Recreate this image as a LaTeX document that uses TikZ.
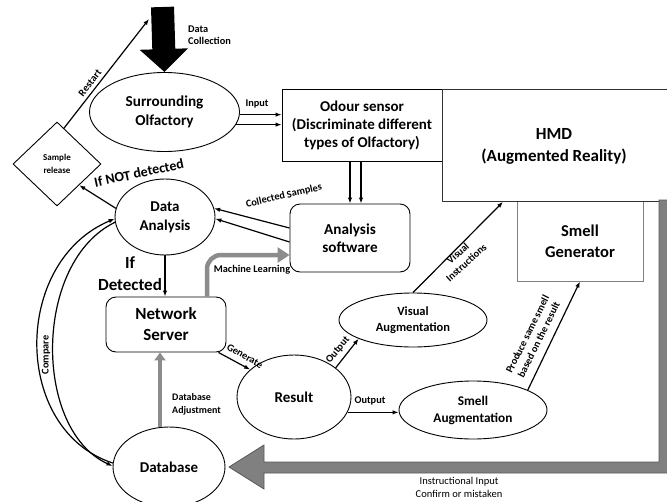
\documentclass[tikz,border=0pt]{standalone}
\usepackage{fontspec}
\setmainfont{Carlito}
\usetikzlibrary{shapes.geometric,arrows.meta,calc}
\begin{document}
\begin{tikzpicture}[x=1pt,y=-1pt,
  arr/.style={-{Latex[length=6pt,width=4.5pt]}, line width=1.2pt},
  ell/.style={ellipse, draw, line width=0.9pt, inner sep=0pt, align=center},
  sqbox/.style={rectangle, draw, line width=0.9pt, inner sep=0pt, align=center},
  rbox/.style={rectangle, rounded corners=10pt, draw, line width=0.9pt, inner sep=0pt, align=center},
  lab/.style={font=\bfseries\fontsize{10.3}{12.5}\selectfont, inner sep=0pt, align=center},
  garr/.style={line width=4.5pt, draw=black!45},
]
\useasboundingbox (0,0) rectangle (667,501);
\clip (0,0) rectangle (667,501);

% nodes
\node[ell, minimum width=150pt, minimum height=79pt, font=\bfseries\fontsize{15.2}{19}\selectfont] (so) at (164.5,112) {Surrounding\\Olfactory};
\node[sqbox, minimum width=160pt, minimum height=72pt, font=\bfseries\fontsize{15}{18}\selectfont] (odour) at (362,125) {Odour sensor\\(Discriminate different\\types of Olfactory)};
\node[sqbox, draw=black!50, minimum width=126pt, minimum height=80pt, font=\bfseries\fontsize{16.5}{21}\selectfont] (sg) at (580,241) {Smell\\Generator};
\node[sqbox, draw=black!80, anchor=north west, minimum width=240pt, minimum height=112pt] (hmd) at (442,89) {};
\node[inner sep=0pt, align=center, font=\bfseries\fontsize{17}{22}\selectfont] (hmdt) at (554,146) {HMD\\(Augmented Reality)};
\node[ell, minimum width=100pt, minimum height=76pt, font=\bfseries\fontsize{15}{19}\selectfont] (da) at (165,217) {Data\\Analysis};
\node[rbox, minimum width=120pt, minimum height=68pt, font=\bfseries\fontsize{15.2}{18}\selectfont] (asw) at (350,238) {Analysis\\software};
\node[rbox, minimum width=120pt, minimum height=55pt, font=\bfseries\fontsize{17}{21}\selectfont] (ns) at (166,324.5) {Network\\Server};
\node[ell, minimum width=114pt, minimum height=84pt, font=\bfseries\fontsize{15}{18}\selectfont] (res) at (294,397) {Result};
\node[ell, minimum width=148pt, minimum height=54pt, font=\bfseries\fontsize{12.5}{16}\selectfont] (va) at (413,320) {Visual\\Augmentation};
\node[ell, minimum width=148pt, minimum height=58pt, font=\bfseries\fontsize{13.3}{17}\selectfont] (sa) at (473,410) {Smell\\Augmentation};
\node[ell, minimum width=112pt, minimum height=80pt, font=\bfseries\fontsize{15}{18}\selectfont] (db) at (169,467) {Database};
\node[diamond, draw, line width=0.9pt, minimum width=88pt, minimum height=84pt, inner sep=0pt, align=center, font=\bfseries\fontsize{9}{13}\selectfont] (sr) at (57,164) {Sample\\release};

% big black data collection arrow
\coordinate (dc) at (162.5,7);
\draw[line width=23pt, -{Triangle[length=23pt,width=47pt]}] (dc) -- (so.north);
\node[lab, align=left, anchor=west] at (188,35) {Data\\Collection};

% input
\draw[arr] (so.-2.3) -- (odour.west |- so.-2.3);
\draw[arr] (so.-10.4) -- (odour.west |- so.-10.4);
\node[lab] at (257,104) {Input};

% odour -> analysis software
\draw[arr] ([xshift=-12pt]odour.south) -- ([xshift=-12pt]odour.south |- asw.north);
\draw[arr] ([xshift=-1pt]odour.south) -- ([xshift=-1pt]odour.south |- asw.north);

% collected samples
\draw[arr] ([yshift=10pt]asw.west) -- (da.10);
\draw[arr] ([yshift=-4pt]asw.west) -- (da.-2);
\node[lab, rotate=13] at (284,196) {Collected Samples};

% machine learning
\draw[garr, rounded corners=14pt, -{Triangle[length=12pt,width=15pt]}] ([xshift=41pt]ns.north) |- ([yshift=-17pt]asw.west);
\node[lab] at (252,270) {Machine Learning};

% data analysis -> network server
\draw[arr] (da.south) -- (da.south |- ns.north);
\node[inner sep=0pt, align=center, font=\bfseries\fontsize{17}{22}\selectfont] at (130,274) {If\\Detected};

% if not detected
\draw[arr] (da.170) -- (sr.south east);
\node[inner sep=0pt, font=\bfseries\fontsize{14}{16}\selectfont, rotate=12] at (139,173) {If NOT detected};

% restart
\coordinate (rs) at (149,19);
\draw[arr] (sr.79) -- (rs);
\node[lab, rotate=52] at (90,83) {Restart};

% compare
\draw[arr] (db.176) .. controls (12,430) and (12,262) .. (da.182);
\draw[arr] (da.186) .. controls (33,262) and (33,430) .. (db.179);
\node[lab, rotate=90] at (46,355) {Compare};

% database adjustment
\draw[garr, line width=4pt, -{Triangle[length=8pt,width=11pt]}] ([xshift=-9pt]db.north) -- ([xshift=-9pt]db.north |- ns.south);
\node[lab, align=left, anchor=west, font=\bfseries\fontsize{10}{13}\selectfont] at (172,404) {Database\\Adjustment};

% generate
\draw[arr] ([xshift=-8pt]ns.south east) -- (res.148);
\node[lab, rotate=-30] at (245,356) {Generate};

% outputs
\draw[arr] (res.35) -- (va.199);
\node[lab, rotate=50] at (338,350) {Output};
\draw[arr] (res.-16) -- (res.-16 -| sa.west);
\node[lab] at (370,401) {Output};

% visual instructions
\draw[arr] (va.north) -- ([xshift=61pt]hmd.south west);
\node[lab, rotate=42] at (462,258) {Visual\\Instructions};

% produce smell
\draw[arr] (sa.20) -- (sg.south);
\node[lab, rotate=63.6] at (533,337) {Produce same smell\\based on the result};

% instructional input big gray arrow
\filldraw[fill=black!50, draw=black!65, line width=0.8pt]
  (229,467) -- (264,445) -- (264,462) -- (659,462) -- (659,200) -- (672,200)
  -- (672,473) -- (264,473) -- (264,489) -- cycle;
\node[inner sep=0pt, align=center, font=\fontsize{10.5}{13}\selectfont] at (459,487) {Instructional Input\\Confirm or mistaken};
\end{tikzpicture}
\end{document}
